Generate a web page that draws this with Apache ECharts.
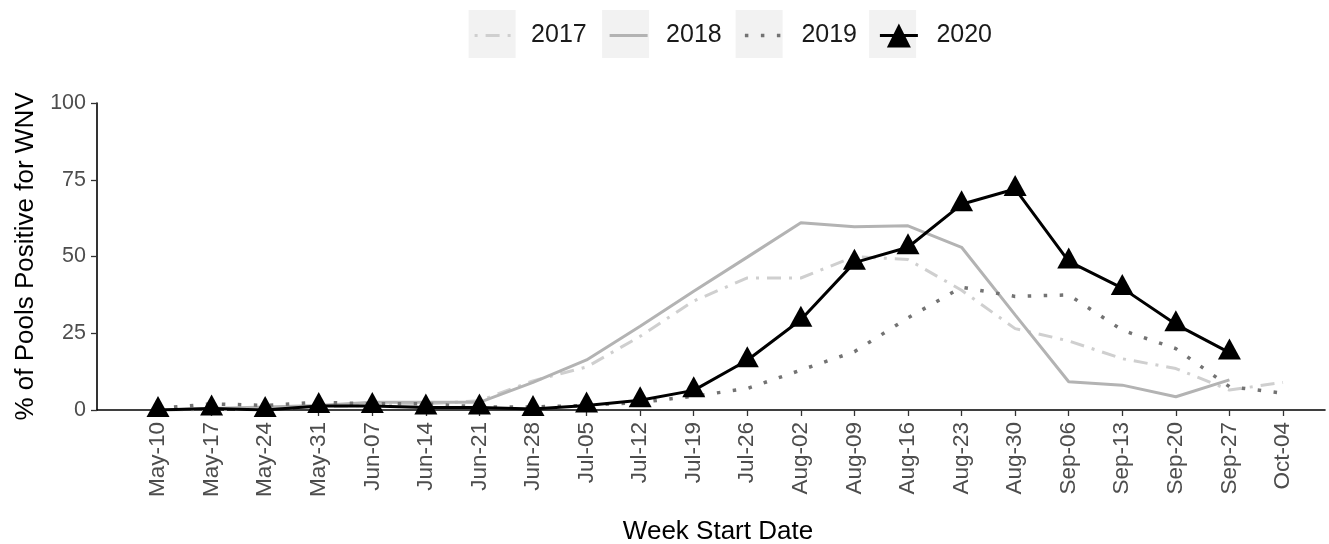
<!DOCTYPE html>
<html>
<head>
<meta charset="utf-8">
<title>WNV pools positive</title>
<script src="https://cdn.jsdelivr.net/npm/echarts@6/dist/echarts.min.js"></script>
<style>
  html, body { margin: 0; padding: 0; background: #fff; }
  #chart { width: 1329px; height: 544px; }
</style>
</head>
<body>
<div id="chart"></div>
<script>
// week start labels (x axis)
const weeks = ['May-10', 'May-17', 'May-24', 'May-31', 'Jun-07', 'Jun-14', 'Jun-21', 'Jun-28',
  'Jul-05', 'Jul-12', 'Jul-19', 'Jul-26', 'Aug-02', 'Aug-09', 'Aug-16', 'Aug-23', 'Aug-30',
  'Sep-06', 'Sep-13', 'Sep-20', 'Sep-27', 'Oct-04'];

// % of pools positive
const y2017 = [0, 0, 0.5, 1, 1.5, 2, 3, 9.5, 14, 24, 35.5, 43, 43, 50, 49, 39, 26.5, 22.5, 16.7, 13.5, 6.5, 9];
const y2018 = [0, 0.5, 1, 1.5, 2.5, 2.5, 2.5, 9, 16.3, 27.3, 38.7, 49.8, 61, 59.7, 60, 53, 31, 9.2, 8.1, 4.3, 9.8];
const y2019 = [0.5, 2, 1.5, 2.5, 2, 2, 1, 1, 1.5, 2.5, 4.5, 7, 13, 19, 30, 40, 37, 37.5, 26, 20, 7.6, 5.5];
const y2020 = [0, 0.5, 0, 1.3, 1.3, 0.8, 0.8, 0.3, 1.5, 3.2, 6.4, 16.2, 29.4, 48, 53, 67, 72, 48.4, 39.7, 27.9, 18.7];

const yTicks = [0, 25, 50, 75, 100];
const years = ['2017', '2018', '2019', '2020'];

const FONT = '"Liberation Sans", Arial, sans-serif';

const chart = echarts.init(document.getElementById('chart'));

const pairs = arr => arr.map((v, i) => [i, v]);
const idx = weeks.map((_, i) => i);

// grey key backgrounds behind the legend samples
const keyLeft = 468.6, keyStep = 133.5;
const keyBoxes = years.map((_, i) => ({
  type: 'rect',
  left: keyLeft + i * keyStep,
  top: 10,
  z: 1,
  shape: { width: 47, height: 48 },
  style: { fill: '#f2f2f2' }
}));

const option = {
  animation: false,
  graphic: keyBoxes,
  legend: {
    z: 10,
    left: keyLeft + 4.5,
    top: 23,
    padding: 0,
    orient: 'horizontal',
    itemWidth: 38,
    itemHeight: 30,
    itemGap: 21.4,
    selectedMode: false,
    textStyle: { fontFamily: FONT, fontSize: 25, color: '#1a1a1a', padding: [0, 0, 0, 13.5] },
    lineStyle: { width: 'inherit' },
    data: [
      { name: '2017', itemStyle: { opacity: 0 } },
      { name: '2018', itemStyle: { opacity: 0 } },
      { name: '2019', itemStyle: { opacity: 0 } },
      { name: '2020' }
    ]
  },
  grid: { left: 97, right: 4, top: 103, bottom: 134, outerBoundsMode: 'none' },
  xAxis: {
    type: 'value',
    min: -1.139,
    max: 21.784,
    name: 'Week Start Date',
    nameLocation: 'middle',
    nameGap: 109,
    nameTextStyle: { fontFamily: FONT, fontSize: 26, color: '#000', padding: [0, 0, 0, 14] },
    axisLine: { onZero: false, lineStyle: { color: '#000', width: 1.6 } },
    axisTick: { length: 6, customValues: idx, lineStyle: { color: '#333', width: 1.3 } },
    axisLabel: {
      customValues: idx,
      rotate: 90,
      margin: 12,
      fontFamily: FONT,
      fontSize: 22.5,
      color: '#4d4d4d',
      formatter: v => weeks[Math.round(v)]
    },
    splitLine: { show: false }
  },
  yAxis: {
    type: 'value',
    min: 0,
    max: 100,
    interval: 25,
    name: '% of Pools Positive for WNV',
    nameLocation: 'middle',
    nameGap: 58,
    nameTextStyle: { fontFamily: FONT, fontSize: 26, color: '#000' },
    axisLine: { show: true, onZero: false, lineStyle: { color: '#000', width: 1.6 } },
    axisTick: { show: true, length: 6, lineStyle: { color: '#333', width: 1.3 } },
    axisLabel: {
      margin: 11,
      fontFamily: FONT,
      fontSize: 21.5,
      color: '#4d4d4d',
      formatter: v => (yTicks.includes(v) ? String(v) : '')
    },
    splitLine: { show: false }
  },
  series: [
    {
      name: '2017', type: 'line', data: pairs(y2017), symbol: 'none',
      lineStyle: { color: '#cfcfcf', width: 3, type: [3, 8, 14, 8], cap: 'butt' },
      itemStyle: { color: '#cfcfcf' }
    },
    {
      name: '2018', type: 'line', data: pairs(y2018), symbol: 'none',
      lineStyle: { color: '#b3b3b3', width: 3 },
      itemStyle: { color: '#b3b3b3' }
    },
    {
      name: '2019', type: 'line', data: pairs(y2019), symbol: 'none',
      lineStyle: { color: '#737373', width: 3.5, type: [3.5, 12.5], cap: 'butt' },
      itemStyle: { color: '#737373' }
    },
    {
      name: '2020', type: 'line', data: pairs(y2020),
      symbol: 'triangle', symbolSize: [23, 21], symbolOffset: [0, -3.5],
      showAllSymbol: true,
      lineStyle: { color: '#000', width: 3 },
      itemStyle: { color: '#000' }
    }
  ]
};

chart.setOption(option);
</script>
</body>
</html>
